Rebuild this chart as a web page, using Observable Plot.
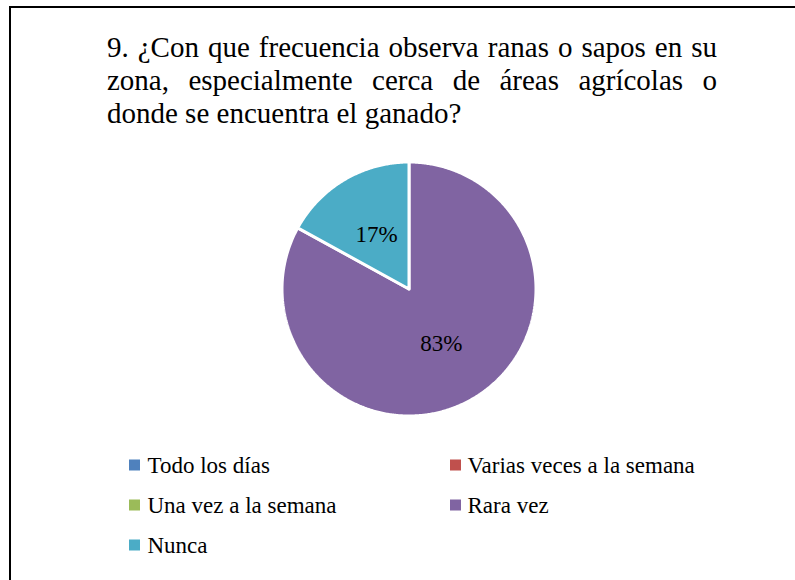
<!DOCTYPE html>
<html>
<head>
<meta charset="utf-8">
<script src="https://cdn.jsdelivr.net/npm/d3@7"></script>
<script src="https://cdn.jsdelivr.net/npm/@observablehq/plot@0.6"></script>
<style>
  html, body { margin: 0; padding: 0; background: #fff; }
  #wrap { position: relative; width: 795px; height: 580px; overflow: hidden; background: #fff; }
  #frame { position: absolute; left: 9px; top: 6px; width: 800px; height: 590px;
           border-left: 2px solid #000; border-top: 2px solid #000; }
  #title { position: absolute; left: 107px; top: 31px; width: 610px;
           font-family: "Liberation Serif", Tinos, "Times New Roman", Times, "Noto Serif", "DejaVu Serif", serif;
           font-size: 29px; line-height: 33px; color: #000; }
  #title span { display: block; text-align: justify; white-space: nowrap; }
  #title span.j { text-align-last: justify; }
  #chart { position: absolute; left: 0; top: 0; }
</style>
</head>
<body>
<div id="wrap">
  <div id="frame"></div>
  <div id="chart"></div>
  <div id="title"></div>
</div>
<script>
// ---- data ----
const titleLines = [
  "9. ¿Con que frecuencia observa ranas o sapos en su",
  "zona, especialmente cerca de áreas agrícolas o",
  "donde se encuentra el ganado?"
];
const categories = ["Todo los días", "Varias veces a la semana", "Una vez a la semana", "Rara vez", "Nunca"];
const values = [0, 0, 0, 83, 17];
const colors = ["#4F81BD", "#C0504D", "#9BBB59", "#8064A2", "#4BACC6"];

// ---- title ----
const titleEl = document.getElementById("title");
titleLines.forEach((t, i) => {
  const s = document.createElement("span");
  s.textContent = t;
  if (i < titleLines.length - 1) { s.className = "j"; s.style.whiteSpace = "normal"; }
  titleEl.appendChild(s);
});

// ---- layout ----
const W = 795, H = 580;
const cx = 408.5, cy = 288.5, R = 127;
const total = d3.sum(values);

let acc = 0;
const slices = categories.map((c, i) => {
  const a0 = acc / total * 2 * Math.PI;
  acc += values[i];
  const a1 = acc / total * 2 * Math.PI;
  return {c, i, v: values[i], a0, a1};
}).filter(s => s.v > 0);

const pts = slices.flatMap(s => {
  const n = Math.max(2, Math.ceil((s.a1 - s.a0) / (Math.PI / 360)));
  const arr = [{c: s.c, x: cx, y: cy}];
  for (let k = 0; k <= n; k++) {
    const a = s.a0 + (s.a1 - s.a0) * k / n;
    arr.push({c: s.c, x: cx + R * Math.sin(a), y: cy - R * Math.cos(a)});
  }
  arr.push({c: s.c, x: cx, y: cy});
  return arr;
});

const labelPts = slices.map(s => {
  const a = (s.a0 + s.a1) / 2;
  return {x: cx + 0.5 * R * Math.sin(a), y: cy - 0.5 * R * Math.cos(a),
          t: Math.round(s.v / total * 100) + "%"};
});

const legendItems = categories.map((c, i) => {
  const col = i % 2, row = Math.floor(i / 2);
  const sx = [129, 450][col];
  const y = 465 + 40 * row;
  return {c, sx1: sx, sx2: sx + 11, y1: y - 5.5, y2: y + 5.5, tx: [147, 467][col], y};
});

const font = "'Liberation Serif', Tinos, 'Times New Roman', Times, 'Noto Serif', 'DejaVu Serif', serif";

const chart = Plot.plot({
  width: W, height: H,
  margin: 0,
  x: {domain: [0, W], range: [0, W], axis: null},
  y: {domain: [0, H], range: [0, H], axis: null},
  color: {domain: categories, range: colors},
  style: {background: "transparent", fontFamily: font},
  marks: [
    Plot.line(pts, {x: "x", y: "y", z: "c", fill: "c", stroke: "white", strokeWidth: 3,
                    strokeLinejoin: "miter", curve: "linear"}),
    Plot.text(labelPts, {x: "x", y: "y", text: "t", fontSize: 23, fontFamily: font, fill: "#000"}),
    Plot.rect(legendItems, {x1: "sx1", x2: "sx2", y1: "y1", y2: "y2", fill: "c"}),
    Plot.text(legendItems, {x: "tx", y: "y", text: "c", textAnchor: "start", fontSize: 23,
                            fontFamily: font, fill: "#000"})
  ]
});
document.getElementById("chart").appendChild(chart);
</script>
</body>
</html>
